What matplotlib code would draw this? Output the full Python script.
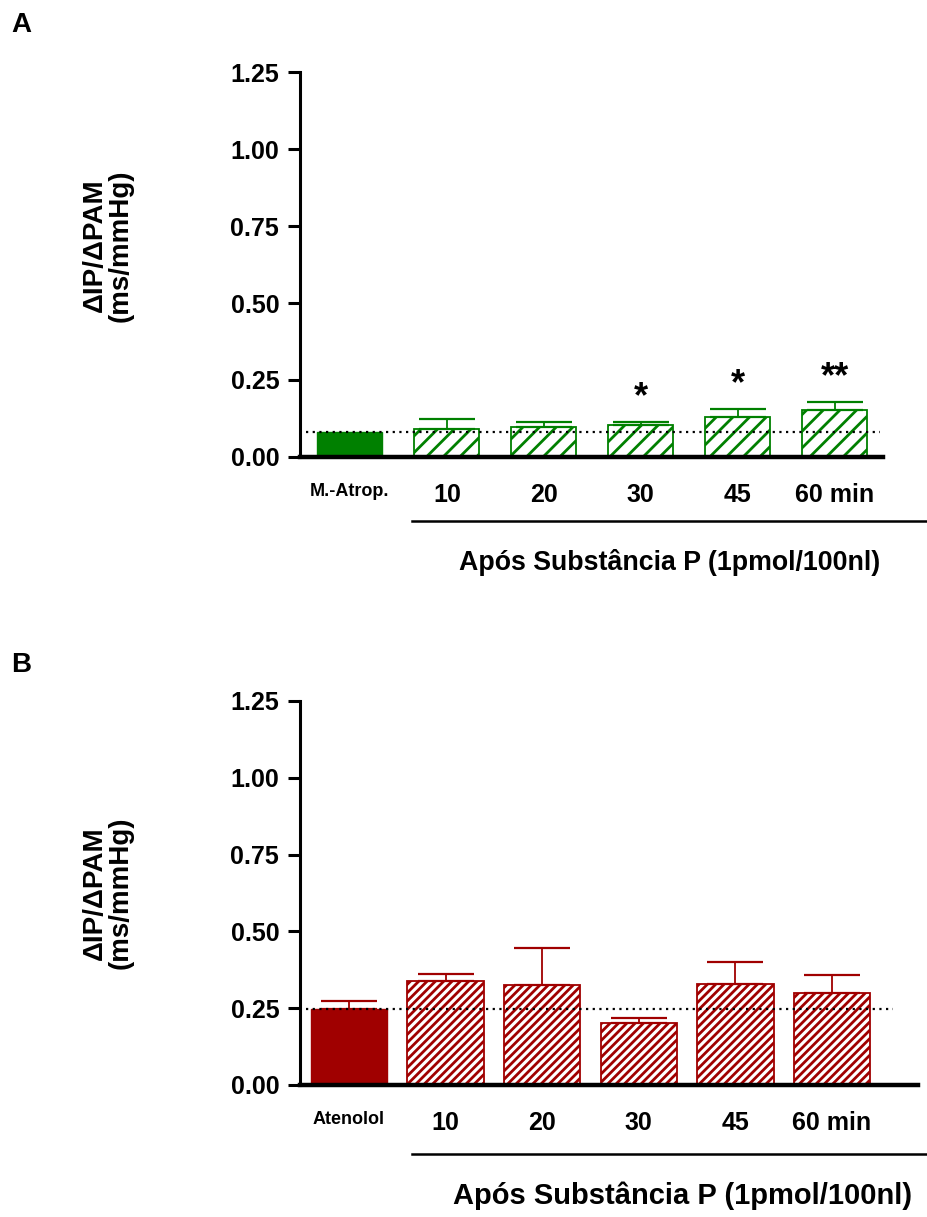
import numpy as np
import matplotlib.pyplot as plt
from matplotlib.lines import Line2D

plt.rcParams['font.family'] = ['Liberation Sans', 'DejaVu Sans']
plt.rcParams['font.weight'] = 'bold'
plt.rcParams['hatch.linewidth'] = 2.0

# baroreflex gain (ms/mmHg): control bar then 10..60 min after substance P
labels_a = ['M.-Atrop.', '10', '20', '30', '45', '60 min']
mean_a = [0.080, 0.091, 0.096, 0.103, 0.131, 0.153]
sem_a = [0.0, 0.032, 0.016, 0.010, 0.026, 0.025]
stars_a = ['', '', '', '*', '*', '**']

labels_b = ['Atenolol', '10', '20', '30', '45', '60 min']
mean_b = [0.247, 0.337, 0.324, 0.203, 0.329, 0.300]
sem_b = [0.027, 0.025, 0.121, 0.016, 0.071, 0.057]
stars_b = ['', '', '', '', '', '']

green = '#008000'
red = '#a00000'

fig = plt.figure(figsize=(9.27, 12.17), dpi=100)


def panel(rect, labels, mean, sem, stars, color, hatch, width, xlim, dot_xmax,
          letter, letter_y, label_y):
    ax = fig.add_axes(rect)
    x = np.arange(len(mean))
    ax.bar(x[0], mean[0], width, color=color, edgecolor=color, linewidth=1, zorder=2)
    ax.bar(x[1:], mean[1:], width, facecolor='white', edgecolor=color,
           hatch=hatch, linewidth=1.3, zorder=2)
    for xi, m, s in zip(x, mean, sem):
        if s > 0:
            ax.errorbar(xi, m, yerr=[[0], [s]], color=color, capsize=20,
                        elinewidth=1.3, capthick=1.6, zorder=3)
    for xi, m, s, st in zip(x, mean, sem, stars):
        if st:
            ax.text(xi, m + s + 0.022, st, ha='center', va='bottom',
                    fontsize=26, fontweight='bold')
    ax.axhline(mean[0], xmin=0.01, xmax=dot_xmax, color='black',
               linestyle=(0, (1, 2)), linewidth=1.6, zorder=4)

    ax.set_xlim(*xlim)
    ax.set_ylim(0, 1.25)
    ax.set_yticks([0, 0.25, 0.5, 0.75, 1.0, 1.25])
    ax.set_yticklabels(['0.00', '0.25', '0.50', '0.75', '1.00', '1.25'])
    ax.set_xticks(x)
    ax.set_xticklabels(labels)
    for i, t in enumerate(ax.get_xticklabels()):
        t.set_fontsize(13 if i == 0 else 18)
        t.set_fontweight('bold')
    ax.tick_params(axis='y', length=9, width=2.2, labelsize=18, pad=6)
    ax.tick_params(axis='x', length=0, pad=19)
    ax.spines['top'].set_visible(False)
    ax.spines['right'].set_visible(False)
    ax.spines['left'].set_linewidth(2.2)
    ax.spines['bottom'].set_linewidth(3.2)
    ax.set_ylabel('ΔIP/ΔPAM\n(ms/mmHg)', fontsize=20, fontweight='bold',
                  linespacing=1.0)
    ax.yaxis.set_label_coords(-0.285 * 0.629 / rect[2], label_y)
    fig.text(0.012, letter_y, letter, fontsize=20, fontweight='bold', va='center')
    return ax


panel([0.3236, 0.6245, 0.629, 0.3163], labels_a, mean_a, sem_a, stars_a,
      green, '//', 0.67, (-0.515, 5.5), 0.995, 'A', 1 - 25 / 1217, 0.55)
panel([0.3236, 0.1085, 0.6667, 0.3155], labels_b, mean_b, sem_b, stars_b,
      red, '////', 0.79, (-0.507, 5.89), 0.96, 'B', 1 - 665 / 1217, 0.5)

# bracket line and caption under the time points
fig.add_artist(Line2D([412 / 927, 1.0], [1 - 521 / 1217] * 2, color='black', linewidth=1.8))
fig.text(670 / 927, 1 - 562 / 1217, 'Após Substância P (1pmol/100nl)',
         fontsize=19.3, fontweight='bold', ha='center', va='center')
fig.add_artist(Line2D([412 / 927, 1.0], [1 - 1154 / 1217] * 2, color='black', linewidth=1.8))
fig.text(683 / 927, 1 - 1196 / 1217, 'Após Substância P (1pmol/100nl)',
         fontsize=21, fontweight='bold', ha='center', va='center')

fig.savefig('out.png', dpi=100)
